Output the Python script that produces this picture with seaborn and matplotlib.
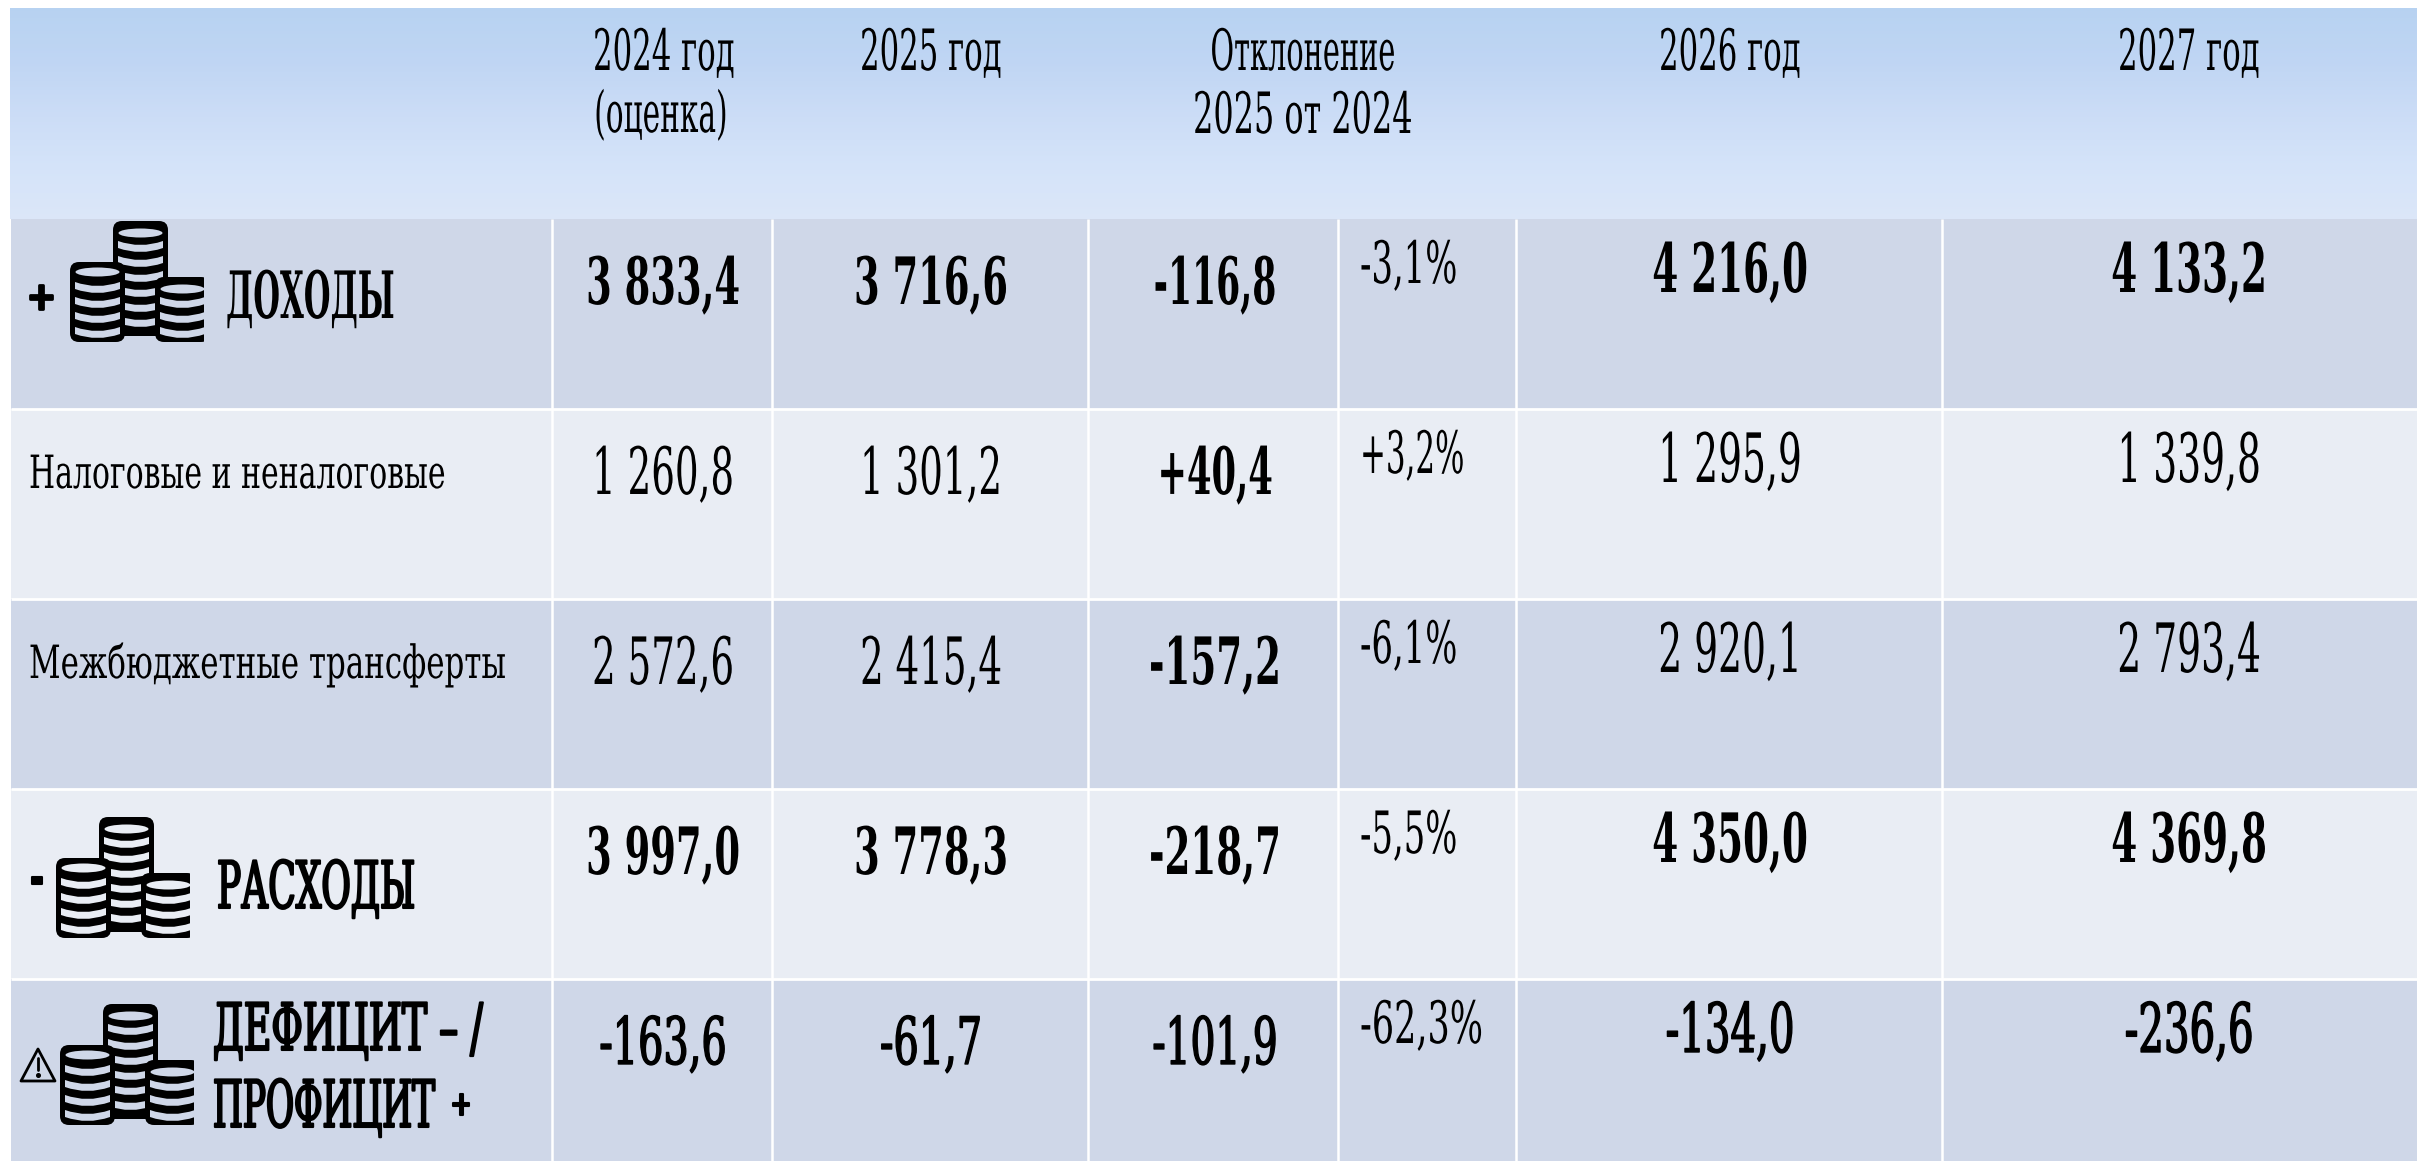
import numpy as np
import matplotlib
matplotlib.use("Agg")
import matplotlib.pyplot as plt
import seaborn as sns
from matplotlib.colors import ListedColormap, LinearSegmentedColormap
from matplotlib.patches import Ellipse, FancyBboxPatch, PathPatch, Polygon
from matplotlib.path import Path
from matplotlib.patheffects import AbstractPathEffect
from matplotlib.text import Text
from matplotlib.transforms import Affine2D, Bbox

W, H = 2417, 1161

# ---- table content ----
row_labels = ["ДОХОДЫ", "Налоговые и неналоговые", "Межбюджетные трансферты", "РАСХОДЫ", "ДЕФИЦИТ – /", "ПРОФИЦИТ"]
values_2024 = ["3 833,4", "1 260,8", "2 572,6", "3 997,0", "-163,6"]
values_2025 = ["3 716,6", "1 301,2", "2 415,4", "3 778,3", "-61,7"]
values_dev = ["-116,8", "+40,4", "-157,2", "-218,7", "-101,9"]
values_pct = ["-3,1%", "+3,2%", "-6,1%", "-5,5%", "-62,3%"]
values_2026 = ["4 216,0", "1 295,9", "2 920,1", "4 350,0", "-134,0"]
values_2027 = ["4 133,2", "1 339,8", "2 793,4", "4 369,8", "-236,6"]

bold_main = [True, False, False, True, False]
bold_dev = [True, True, True, True, False]

# ---- layout in pixels ----
col_lines = [552, 772, 1088, 1338, 1516, 1942]
row_tops = [219, 409, 599, 789, 979]
dev_widths = [0.53, 0.54, 0.57, 0.57, 0.60]
pct_widths = [0.58, 0.53, 0.58, 0.58, 0.60]
BAND_DARK, BAND_LIGHT = "#CFD7E8", "#E9EDF4"
HEADER_STOPS = ["#B7D2F1", "#BFD5F3", "#CBDCF6", "#D4E3F9", "#DBE6F8"]


class Squeeze(AbstractPathEffect):
    """Reshapes a text around its anchor: the chart's face is very condensed."""
    def __init__(self, ax_, ay_, sx, sy, stroke=0.0):
        super().__init__()
        self.ax_, self.ay_, self.sx, self.sy, self.stroke = ax_, ay_, sx, sy, stroke

    def draw_path(self, renderer, gc, tpath, affine, rgbFace=None):
        a = affine + (Affine2D().translate(-self.ax_, -self.ay_)
                      .scale(self.sx, self.sy).translate(self.ax_, self.ay_))
        g = renderer.new_gc()
        g.copy_properties(gc)
        if self.stroke:
            g.set_linewidth(self.stroke)
            g.set_foreground(rgbFace)
        renderer.draw_path(g, tpath, a, rgbFace)
        g.restore()


class SqueezedText(Text):
    """A text that reports the reshaped extent it really paints."""
    def __init__(self, x, y, s, sx, sy, stroke=0.0, **kw):
        super().__init__(x, y, s, path_effects=[Squeeze(x, H - y, sx, sy, stroke)], **kw)
        self._a = (x, H - y, sx, sy)

    def get_window_extent(self, renderer=None, dpi=None):
        b = super().get_window_extent(renderer, dpi)
        ax_, ay_, sx, sy = self._a
        return Bbox([[ax_ + (b.x0 - ax_) * sx, ay_ + (b.y0 - ay_) * sy],
                     [ax_ + (b.x1 - ax_) * sx, ay_ + (b.y1 - ay_) * sy]])


sns.set_theme(style="white")
fig = plt.figure(figsize=(W / 100, H / 100), dpi=100, facecolor="white")


def axes_px(x0, y0, x1, y1):
    return fig.add_axes([x0 / W, 1 - y1 / H, (x1 - x0) / W, (y1 - y0) / H])


# header gradient
ax_head = axes_px(10, 8, W, 219)
cmap_head = LinearSegmentedColormap.from_list("head", HEADER_STOPS)
sns.heatmap(np.linspace(0, 1, 128)[:, None], ax=ax_head, cmap=cmap_head, cbar=False,
            xticklabels=False, yticklabels=False)

# body bands: five equal rows, the last one cut by the page edge
ax_body = axes_px(11, 219, W, H)
bands = np.array([[0], [1], [0], [1], [0]])
sns.heatmap(bands, ax=ax_body, cmap=ListedColormap([BAND_DARK, BAND_LIGHT]), cbar=False,
            xticklabels=False, yticklabels=False)
ax_body.set_ylim((H - 219) / 190, 0)

# overlay in pixel coordinates
ax = fig.add_axes([0, 0, 1, 1])
ax.set_xlim(0, W)
ax.set_ylim(H, 0)
ax.axis("off")
ax.patch.set_alpha(0)

for y in row_tops[1:]:
    ax.plot([11, W], [y, y], color="white", lw=2.0, solid_capstyle="butt")
for x in col_lines:
    ax.plot([x, x], [219, H], color="white", lw=1.8, solid_capstyle="butt")


def put(x, y, s, size, sx, ha="center", bold=False, stroke=0.0, k=1.0):
    t = SqueezedText(x, y, s, sx / k, 1 / k, stroke, fontsize=size * k, ha=ha, va="baseline",
                     color="black", family="DejaVu Serif", weight="bold" if bold else "normal")
    ax.add_artist(t)
    return t


# header texts
HS, HSX = 41, 0.54
put(664, 70, "2024 год", HS, HSX)
put(661, 132, "(оценка)", HS, 0.52)
put(931, 70, "2025 год", HS, HSX)
put(1303, 70, "Отклонение", HS, 0.506)
put(1303, 133, "2025 от 2024", HS, 0.56)
put(1730, 70, "2026 год", HS, HSX)
put(2189, 70, "2027 год", HS, HSX)

# values
SXB, SXR = 0.565, 0.57
for i, top in enumerate(row_tops):
    base = top + 85
    stroke = 1.0 if i == 4 else 0.0
    sx = SXB if bold_main[i] else (0.61 if i == 4 else SXR)
    put(663, base, values_2024[i], 47, sx, bold=bold_main[i], stroke=stroke)
    put(931, base, values_2025[i], 47, sx, bold=bold_main[i], stroke=stroke)
    put(1215, base, values_dev[i], 47, dev_widths[i], bold=bold_dev[i], stroke=stroke)
    put(1360, top + 64, values_pct[i], 42, pct_widths[i], ha="left")
    put(1730, top + 73, values_2026[i], 49, sx * 0.97, bold=bold_main[i], stroke=stroke)
    put(2189, top + 73, values_2027[i], 49, sx * 0.97, bold=bold_main[i], stroke=stroke)

# row labels
put(226, 318, row_labels[0], 47, 0.47, ha="left", bold=True, k=0.75)
put(29, 488, row_labels[1], 33, 0.653, ha="left", k=0.7)
put(29, 678, row_labels[2], 33, 0.674, ha="left", k=0.7)
put(217, 908, row_labels[3], 47, 0.55, ha="left", stroke=1.5)
put(213, 1050, row_labels[4], 47, 0.58, ha="left", stroke=1.5, k=0.72)
put(213, 1127, row_labels[5], 47, 0.525, ha="left", stroke=1.5, k=0.5)
put(461, 1115, "+", 24, 0.8, bold=True, stroke=1.5, k=0.6)
put(41, 309, "+", 27, 0.95, bold=True, stroke=2.0)
put(37, 894, "-", 36, 0.6, bold=True, stroke=1.5)


# coin icons
def coin_stack(x0, y0, y1, ell_dy, n, fill, zorder):
    x1 = x0 + 55
    ax.add_patch(FancyBboxPatch((x0, y0), 55, y1 - y0, boxstyle="round,pad=0,rounding_size=9",
                                fc="black", ec="none", zorder=zorder))
    ax.add_patch(Ellipse(((x0 + x1) / 2, y0 + ell_dy), 44, 9, fc=fill, ec="none", zorder=zorder + 1))
    for i in range(n):
        top = y0 + 20 + i * 15
        l, r = x0 + 5, x1 - 5
        c = (l + r) / 2
        verts = [(l, top), (c, top + 8), (r, top),
                 (r, top + 7), (c, top + 15), (l, top + 7), (l, top)]
        codes = [Path.MOVETO, Path.CURVE3, Path.CURVE3, Path.LINETO, Path.CURVE3, Path.CURVE3, Path.CLOSEPOLY]
        ax.add_patch(PathPatch(Path(verts, codes), fc=fill, ec="none", zorder=zorder + 1))


def coins(x, y, fill):
    coin_stack(x + 43, y, y + 115, 12, 6, fill, 5)
    coin_stack(x, y + 41, y + 121, 10, 4, fill, 7)
    coin_stack(x + 85, y + 56, y + 121, 12, 3, fill, 9)
    ax.add_patch(plt.Rectangle((x + 134, y + 50), 16, 75, fc=fill, ec="none", zorder=12))


coins(70, 221, BAND_DARK)
coins(56, 817, BAND_LIGHT)
coins(60, 1004, BAND_DARK)

# warning triangle
ax.add_patch(Polygon([(38, 1049), (55, 1081), (21, 1081)], closed=True, fc="none", ec="black",
                     lw=2.0, joinstyle="round", zorder=5))
ax.plot([38, 38], [1058, 1070], color="black", lw=2.0, zorder=5)
ax.plot([38], [1075], marker="o", ms=2.6, color="black", zorder=5)

fig.savefig("out.png", dpi=100)
